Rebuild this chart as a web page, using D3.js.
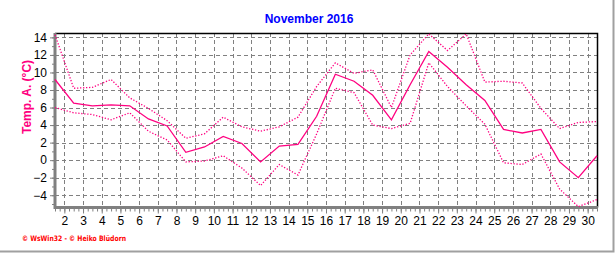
<!DOCTYPE html>
<html>
<head>
<meta charset="utf-8">
<script src="https://cdn.jsdelivr.net/npm/d3@7"></script>
<style>
  body { margin: 0; background: #fff; }
  svg { display: block; font-family: Arial, "Liberation Sans", sans-serif; }
</style>
</head>
<body>
<div id="chart"></div>
<script>
// daily values, November 2016
const days = d3.range(1, 31);
const tempMax = [14.3, 8.2, 8.3, 9.2, 7.1, 5.9, 4.5, 2.5, 3.0, 4.9, 3.8, 3.3, 3.8, 4.9, 8.4,
                 11.1, 9.9, 10.3, 6.0, 12.0, 14.4, 12.5, 14.4, 8.9, 9.0, 8.8, 5.9, 3.6, 4.3, 4.4];
const tempMean = [9.2, 6.5, 6.2, 6.3, 6.2, 4.7, 3.9, 0.9, 1.5, 2.7, 1.9, -0.2, 1.6, 1.8, 5.0,
                  9.8, 9.0, 7.4, 4.6, 8.6, 12.4, 10.6, 8.6, 6.8, 3.5, 3.1, 3.5, -0.2, -2.0, 0.5];
const tempMin = [6.0, 5.4, 5.2, 4.6, 5.4, 3.3, 2.3, -0.2, -0.1, 0.5, -0.9, -2.9, -0.5, -1.7, 3.0,
                 8.2, 7.7, 4.0, 3.6, 4.2, 11.1, 8.4, 6.2, 4.1, -0.3, -0.5, 0.7, -3.3, -5.3, -4.5];
const xTickLabels = d3.range(2, 31);
const yTickLabels = [-4, -2, 0, 2, 4, 6, 8, 10, 12, 14];

const width = 616, height = 253;
const margin = {top: 33, right: 19, bottom: 45.5, left: 55};
const innerWidth = width - margin.left - margin.right;
const innerHeight = height - margin.top - margin.bottom;
const lineColor = "#ff0080";
const gridColor = "#808080";

const svg = d3.select("#chart").append("svg")
  .attr("width", width)
  .attr("height", height);

// outer frame (right and bottom edge only)
svg.append("path")
  .attr("d", `M0,${height - 1.5}H${width - 2.5}V0`)
  .attr("fill", "none")
  .attr("stroke", "#a0a0a0")
  .attr("stroke-width", 2);

svg.append("text")
  .attr("x", 309)
  .attr("y", 23)
  .attr("text-anchor", "middle")
  .attr("font-size", 12)
  .attr("font-weight", "bold")
  .attr("fill", "#0000ff")
  .text("November 2016");

svg.append("text")
  .attr("transform", "translate(30.5, 97) rotate(-90)")
  .attr("text-anchor", "middle")
  .attr("font-size", 12)
  .attr("font-weight", "bold")
  .attr("fill", lineColor)
  .text("Temp. A. (°C)");

svg.append("text")
  .attr("x", 22)
  .attr("y", 241)
  .attr("font-size", 7.5)
  .attr("font-weight", "bold")
  .attr("font-family", "Verdana, 'DejaVu Sans', sans-serif")
  .attr("fill", "#ff0000")
  .attr("textLength", 104)
  .attr("lengthAdjust", "spacingAndGlyphs")
  .text("© WsWin32 - © Heiko Blüdorn");

const innerChart = svg.append("g")
  .attr("transform", `translate(${margin.left}, ${margin.top})`);

// day d is drawn at d, labels sit half a day to the left
const xScale = d3.scaleLinear()
  .domain([1, 30])
  .range([0, innerWidth]);

const yScale = d3.scaleLinear()
  .domain([-5.4, 14.5])
  .range([innerHeight, 0]);

// grid
innerChart.append("g")
  .selectAll("line")
  .data(yTickLabels)
  .join("line")
    .attr("x1", 0)
    .attr("x2", innerWidth)
    .attr("y1", d => Math.round(yScale(d)) + 0.5)
    .attr("y2", d => Math.round(yScale(d)) + 0.5)
    .attr("stroke", gridColor)
    .attr("stroke-dasharray", "4,3");

innerChart.append("g")
  .selectAll("line")
  .data(xTickLabels)
  .join("line")
    .attr("x1", d => Math.round(xScale(d - 0.5)) + 0.5)
    .attr("x2", d => Math.round(xScale(d - 0.5)) + 0.5)
    .attr("y1", 0)
    .attr("y2", innerHeight)
    .attr("stroke", gridColor)
    .attr("stroke-dasharray", "4,3");

// top and right frame
innerChart.append("path")
  .attr("d", `M0,0.5H${innerWidth + 0.5}V${innerHeight}`)
  .attr("fill", "none")
  .attr("stroke", "#000")
  .attr("stroke-width", 1.5);

// minor ticks
const xMinor = innerChart.append("g")
  .attr("transform", `translate(0, ${innerHeight})`)
  .call(d3.axisBottom(xScale)
    .tickValues(d3.range(1, 30.01, 0.25))
    .tickSize(4)
    .tickFormat(""));

const yMinor = innerChart.append("g")
  .call(d3.axisLeft(yScale)
    .tickValues(d3.range(-5, 14.1, 1))
    .tickSize(3)
    .tickFormat(""));

[xMinor, yMinor].forEach(g => g.selectAll(".tick text").remove());

const xAxis = innerChart.append("g")
  .attr("transform", `translate(0, ${innerHeight})`)
  .call(d3.axisBottom(xScale)
    .tickValues(xTickLabels.map(d => d - 0.5))
    .tickFormat(d => d + 0.5)
    .tickSize(6)
    .tickPadding(3));

const yAxis = innerChart.append("g")
  .call(d3.axisLeft(yScale)
    .tickValues(yTickLabels)
    .tickSize(5)
    .tickPadding(3));

[xMinor, yMinor, xAxis, yAxis].forEach(g => {
  g.select(".domain").remove();
  g.selectAll(".tick line").attr("stroke", gridColor);
  g.selectAll(".tick text")
    .attr("fill", "#000")
    .attr("font-size", 12)
    .attr("font-family", "Arial, 'Liberation Sans', sans-serif");
});

// thick gray axes
innerChart.append("path")
  .attr("d", `M0,0V${innerHeight}H${innerWidth + 1}`)
  .attr("fill", "none")
  .attr("stroke", gridColor)
  .attr("stroke-width", 3);

// series
const lineGenerator = values => d3.line()
  .x((d, i) => xScale(days[i]))
  .y(d => yScale(d))(values);

innerChart.append("path")
  .attr("d", lineGenerator(tempMax))
  .attr("fill", "none")
  .attr("stroke", lineColor)
  .attr("stroke-width", 1.3)
  .attr("stroke-dasharray", "1.3,1.7");

innerChart.append("path")
  .attr("d", lineGenerator(tempMin))
  .attr("fill", "none")
  .attr("stroke", lineColor)
  .attr("stroke-width", 1.3)
  .attr("stroke-dasharray", "1.3,1.7");

innerChart.append("path")
  .attr("d", lineGenerator(tempMean))
  .attr("fill", "none")
  .attr("stroke", lineColor)
  .attr("stroke-width", 1.3);
</script>
</body>
</html>
